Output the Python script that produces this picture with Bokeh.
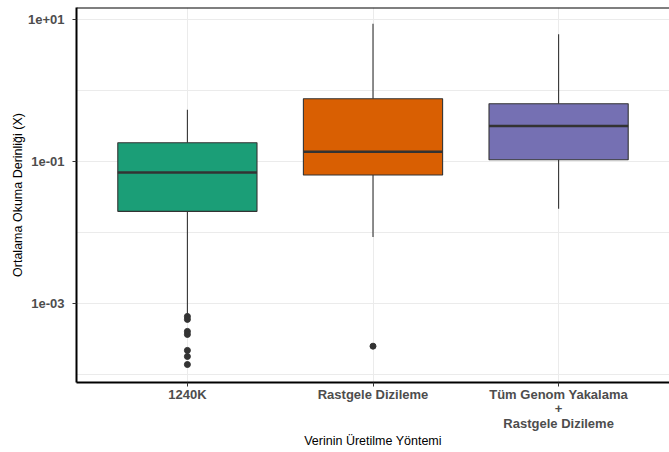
from bokeh.plotting import figure
from bokeh.models import ColumnDataSource, FactorRange, FixedTicker, Span
from bokeh.transform import dodge
from bokeh.embed import file_html
from bokeh.resources import INLINE

categories = ["1240K", "Rastgele Dizileme", "Tüm Genom Yakalama\n+\nRastgele Dizileme"]
colors = ["#1B9E77", "#D95F02", "#7570B3"]
lower = [6.8e-4, 0.0086, 0.0216]
q1 = [0.0198, 0.0642, 0.1057]
median = [0.070, 0.137, 0.315]
q3 = [0.183, 0.764, 0.649]
upper = [0.535, 8.7, 6.15]
outlier_cat = ["1240K"] * 7 + ["Rastgele Dizileme"]
outlier_val = [6.56e-4, 5.96e-4, 4.04e-4, 3.66e-4, 2.18e-4, 1.79e-4, 1.38e-4, 2.5e-4]
y_ticks = [1e-3, 1e-1, 1e1]
y_minor = [1e-4, 1e-2, 1e0]
y_tick_labels = {1e-3: "1e-03", 1e-1: "1e-01", 1e1: "1e+01"}
y_start, y_end = 7.7e-5, 14.7

FONT = "Liberation Sans"

src = ColumnDataSource(dict(cat=categories, color=colors, lower=lower, q1=q1,
                            median=median, q3=q3, upper=upper))
osrc = ColumnDataSource(dict(cat=outlier_cat, val=outlier_val))

p = figure(width=669, height=452, output_backend="svg", toolbar_location=None,
           x_range=FactorRange(factors=categories, range_padding=0.065, range_padding_units="percent"),
           y_axis_type="log", y_range=(y_start, y_end),
           min_border_left=76, min_border_right=0, min_border_top=7, min_border_bottom=70)
p.outline_line_color = None
p.background_fill_color = "white"

# whiskers
p.segment(x0="cat", x1="cat", y0="q3", y1="upper", source=src, line_color="#333333", line_width=1.1)
p.segment(x0="cat", x1="cat", y0="lower", y1="q1", source=src, line_color="#333333", line_width=1.1)
# boxes
p.vbar(x="cat", bottom="q1", top="q3", width=0.75, source=src, fill_color="color",
       line_color="#333333", line_width=1.1)
# medians
p.segment(x0=dodge("cat", -0.375, range=p.x_range), x1=dodge("cat", 0.375, range=p.x_range),
          y0="median", y1="median", source=src, line_color="#333333", line_width=2.5)
# outliers
p.scatter(x="cat", y="val", source=osrc, size=6, color="#333333")

p.add_layout(Span(location=y_end, dimension="width", line_color="black", line_width=2))

# axes
p.yaxis.ticker = FixedTicker(ticks=y_ticks, minor_ticks=y_minor)
p.yaxis.major_label_overrides = y_tick_labels
p.yaxis.minor_tick_line_color = None
for ax in (p.xaxis[0], p.yaxis[0]):
    ax.axis_line_color = "black"
    ax.axis_line_width = 2
    ax.major_tick_line_color = "#333333"
    ax.major_tick_out = 4
    ax.major_tick_in = 0
    ax.major_label_text_font = FONT
    ax.major_label_text_font_style = "bold"
    ax.major_label_text_font_size = "13px"
    ax.major_label_text_color = "#4d4d4d"
    ax.major_label_text_line_height = 0.98
    ax.axis_label_text_font = FONT
    ax.axis_label_text_font_style = "normal"
    ax.axis_label_text_font_size = "12.5px"
    ax.axis_label_text_color = "black"
p.xaxis.major_label_standoff = 0
p.yaxis.major_label_standoff = 8
p.xaxis.axis_label = "Verinin Üretilme Yöntemi"
p.yaxis.axis_label = "Ortalama Okuma Derinliği (X)"
p.xaxis.axis_label_standoff = 0
p.yaxis.axis_label_standoff = 0

p.xgrid.grid_line_color = "#ebebeb"
p.xgrid.grid_line_width = 1
p.ygrid.grid_line_color = "#ebebeb"
p.ygrid.grid_line_width = 1
p.ygrid.minor_grid_line_color = "#ebebeb"
p.ygrid.minor_grid_line_width = 1

open("out.html", "w").write(file_html(p, INLINE))
